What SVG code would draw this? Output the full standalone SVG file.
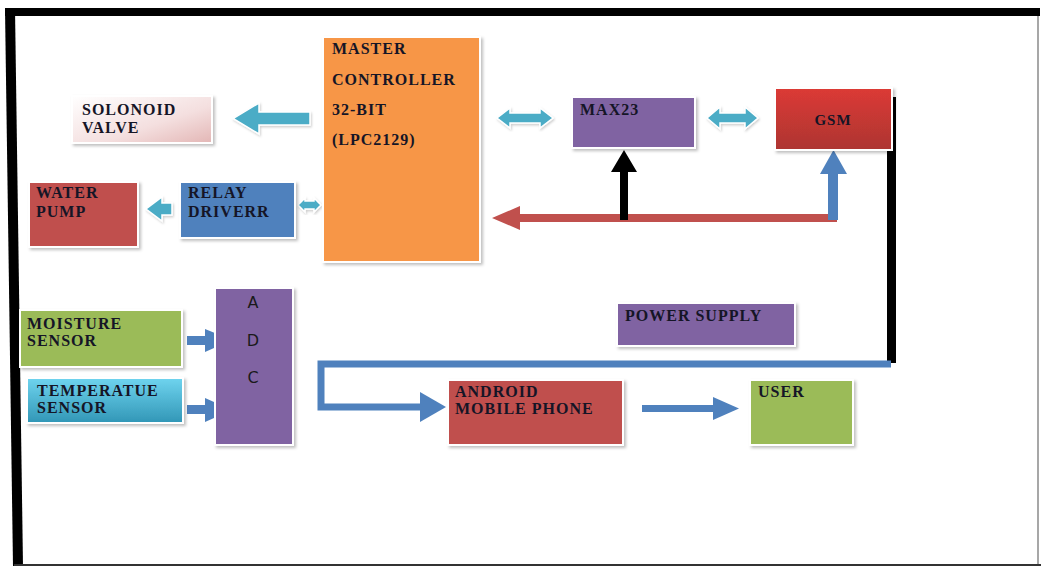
<svg xmlns="http://www.w3.org/2000/svg" width="1041" height="568" viewBox="0 0 1041 568">
<style>
  .lbl { font-family: "Liberation Serif", "Times New Roman", serif; font-weight: bold; font-size: 16px; letter-spacing: 1px; fill: #151526; }
  .adc { font-family: "DejaVu Sans", Verdana, sans-serif; font-size: 16px; fill: #1a1a1a; }
  .box { stroke: #ffffff; stroke-width: 2; filter: url(#sh); }
  .arr { stroke: #ffffff; stroke-width: 1.5; filter: url(#sh2); }
</style>
<defs>
  <filter id="sh" x="-10%" y="-10%" width="130%" height="130%">
    <feDropShadow dx="2" dy="2" stdDeviation="1.5" flood-color="#000" flood-opacity="0.25"/>
  </filter>
  <filter id="sh2" x="-20%" y="-20%" width="140%" height="140%">
    <feDropShadow dx="1" dy="1.5" stdDeviation="1" flood-color="#000" flood-opacity="0.2"/>
  </filter>
  <linearGradient id="gValve" x1="0" y1="0" x2="1" y2="1">
    <stop offset="0" stop-color="#ffffff"/>
    <stop offset="0.6" stop-color="#f4dfdf"/>
    <stop offset="1" stop-color="#e3b6b5"/>
  </linearGradient>
  <linearGradient id="gGsm" x1="0" y1="0" x2="0" y2="1">
    <stop offset="0" stop-color="#dc3a35"/>
    <stop offset="1" stop-color="#ad3532"/>
  </linearGradient>
  <linearGradient id="gTemp" x1="0" y1="0" x2="0" y2="1">
    <stop offset="0" stop-color="#6fd4ef"/>
    <stop offset="1" stop-color="#3196b6"/>
  </linearGradient>
</defs>
<rect x="0" y="0" width="1041" height="568" fill="#ffffff"/>

<g id="frame">
  <rect x="5" y="8" width="1035" height="8" fill="#000"/>
  <polygon points="5,9 15,9 23,566 13,566" fill="#000"/>
  <line x1="1038" y1="16" x2="1038" y2="565" stroke="#8a8a8a" stroke-width="1.5"/>
  <line x1="14" y1="565" x2="1041" y2="565" stroke="#333" stroke-width="2"/>
</g>

<g id="connectors">
  <!-- controller -> solenoid valve -->
  <polygon class="arr" fill="#4bacc6" points="310,112 259,112 259,103 233,118.5 259,134 259,125 310,125"/>
  <!-- relay -> water pump -->
  <polygon class="arr" fill="#4bacc6" points="172,203 162,203 162,197 146,209 162,221 162,215 172,215"/>
  <!-- relay <-> controller -->
  <polygon class="arr" fill="#4bacc6" points="298,205 305,198 305,201 314,201 314,198 321,205 314,212 314,209 305,209 305,212"/>
  <!-- controller <-> MAX23 -->
  <polygon class="arr" fill="#4bacc6" points="497,118 510,108 510,113 540,113 540,108 553,118 540,128 540,123 510,123 510,128"/>
  <!-- MAX23 <-> GSM -->
  <polygon class="arr" fill="#4bacc6" points="707,118 720,107 720,113 745,113 745,107 758,118 745,129 745,123 720,123 720,129"/>
  <!-- red line with arrowhead to controller -->
  <polygon fill="#c0504d" points="837,214 520,214 520,206 492,218 520,230 520,222 837,222"/>
  <!-- black arrow up to MAX23 -->
  <polygon fill="#000" points="620,220 620,172 611,172 624,150 637,172 628,172 628,220"/>
  <!-- blue arrow up to GSM -->
  <polygon fill="#4f81bd" points="828,220 828,174 820,174 833.5,150 847,174 838,174 838,220"/>
  <!-- black vertical from GSM -->
  <rect x="887" y="97" width="9" height="266" fill="#000"/>
  <!-- blue connector to android -->
  <polyline points="891,364 321,364 321,407 422,407" fill="none" stroke="#4f81bd" stroke-width="7"/>
  <polygon fill="#4f81bd" points="420,392 446,407 420,422"/>
  <!-- phone -> user -->
  <rect x="642" y="405" width="73" height="7" fill="#4f81bd"/>
  <polygon fill="#4f81bd" points="713,397 739,408.5 713,420"/>
  <!-- moisture -> ADC -->
  <rect x="187" y="336" width="20" height="9" fill="#4f81bd"/>
  <polygon fill="#4f81bd" points="205,329 232,340 205,352"/>
  <!-- temperature -> ADC -->
  <rect x="187" y="405" width="20" height="9" fill="#4f81bd"/>
  <polygon fill="#4f81bd" points="205,398 232,410 205,422"/>
</g>

<g id="master-controller">
  <rect class="box" x="323" y="37" width="157" height="225" fill="#f79646"/>
  <text class="lbl" x="332" y="54">MASTER</text>
  <text class="lbl" x="332" y="85">CONTROLLER</text>
  <text class="lbl" x="332" y="115">32-BIT</text>
  <text class="lbl" x="332" y="145">(LPC2129)</text>
</g>
<g id="solonoid-valve">
  <rect class="box" x="72" y="96" width="140" height="47" fill="url(#gValve)"/>
  <text class="lbl" x="82" y="115">SOLONOID</text>
  <text class="lbl" x="82" y="133">VALVE</text>
</g>
<g id="water-pump">
  <rect class="box" x="29" y="182" width="109" height="65" fill="#c0504d"/>
  <text class="lbl" x="36" y="198">WATER</text>
  <text class="lbl" x="36" y="217">PUMP</text>
</g>
<g id="relay-driver">
  <rect class="box" x="180" y="182" width="115" height="56" fill="#4f81bd"/>
  <text class="lbl" x="188" y="198">RELAY</text>
  <text class="lbl" x="188" y="217">DRIVERR</text>
</g>
<g id="max23">
  <rect class="box" x="572" y="97" width="123" height="51" fill="#8064a2"/>
  <text class="lbl" x="580" y="115">MAX23</text>
</g>
<g id="gsm">
  <rect class="box" x="775" y="88" width="117" height="62" fill="url(#gGsm)"/>
  <text class="lbl" x="833" y="125" text-anchor="middle" style="font-size:15px">GSM</text>
</g>
<g id="moisture-sensor">
  <rect class="box" x="20" y="310" width="162" height="57" fill="#9bbb59"/>
  <text class="lbl" x="27" y="329">MOISTURE</text>
  <text class="lbl" x="27" y="346">SENSOR</text>
</g>
<g id="temperature-sensor">
  <rect class="box" x="27" y="378" width="156" height="45" fill="url(#gTemp)"/>
  <text class="lbl" x="37" y="396">TEMPERATUE</text>
  <text class="lbl" x="37" y="413">SENSOR</text>
</g>
<g id="adc">
  <rect class="box" x="215" y="288" width="78" height="157" fill="#8064a2"/>
  <text class="adc" x="253" y="308" text-anchor="middle">A</text>
  <text class="adc" x="253" y="346" text-anchor="middle">D</text>
  <text class="adc" x="253" y="383" text-anchor="middle">C</text>
</g>
<g id="power-supply">
  <rect class="box" x="617" y="303" width="178" height="43" fill="#8064a2"/>
  <text class="lbl" x="625" y="321">POWER SUPPLY</text>
</g>
<g id="android-phone">
  <rect class="box" x="448" y="380" width="175" height="65" fill="#c0504d"/>
  <text class="lbl" x="455" y="397">ANDROID</text>
  <text class="lbl" x="455" y="414">MOBILE PHONE</text>
</g>
<g id="user">
  <rect class="box" x="750" y="380" width="103" height="65" fill="#9bbb59"/>
  <text class="lbl" x="758" y="397">USER</text>
</g>
</svg>
